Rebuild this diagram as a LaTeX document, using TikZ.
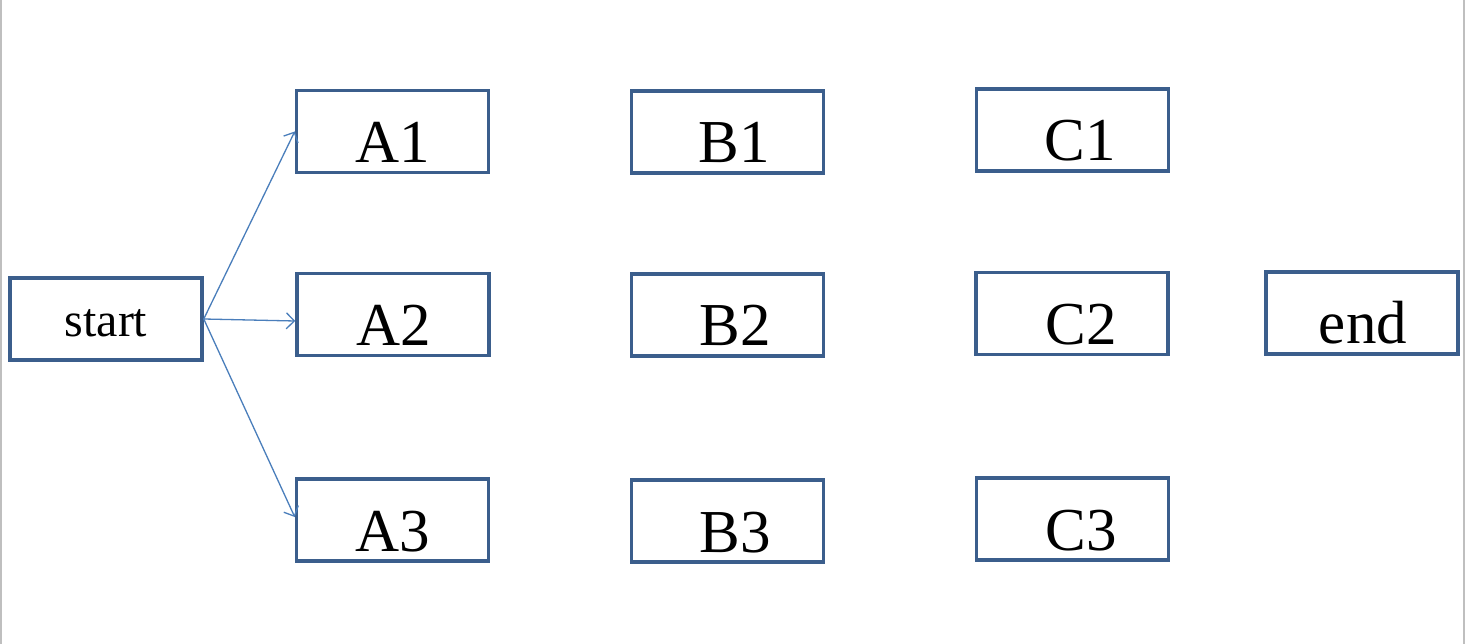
\documentclass[tikz,border=0pt]{standalone}
\usepackage{fontspec}
\setmainfont{Liberation Serif}
\usetikzlibrary{arrows.meta}
\definecolor{boxblue}{HTML}{3B5E8C}
\definecolor{arrowblue}{HTML}{4A7EBB}
\begin{document}
\begin{tikzpicture}[x=1pt,y=-1pt,
  box/.style={draw=boxblue,line width=3.5pt,rectangle,minimum width=192pt,minimum height=82pt,
    inner sep=0pt,text height=62pt,text depth=0pt,font=\fontsize{61}{70}\selectfont},
  smallbox/.style={box,text height=36pt,font=\fontsize{48}{56}\selectfont},
  conn/.style={draw=arrowblue,line width=1.3pt,-{Straight Barb[length=8pt,width=16pt,line width=1.3pt]}},
  edge/.style={draw=black!25,line width=1.5pt}]
\useasboundingbox (0,0) rectangle (1465,644);
\fill[white] (0,0) rectangle (1465,644);
\coordinate (ltop) at (0.8,0);
\coordinate (lbot) at (0.8,644);
\coordinate (rtop) at (1463.8,0);
\coordinate (rbot) at (1463.8,644);
\draw[edge] (ltop) -- (lbot);
\draw[edge] (rtop) -- (rbot);

\node[smallbox] (start) at (106,319) {start\hspace{20pt}};
\node[box] (A1) at (392.5,131.5) {A1};
\node[box] (A2) at (393,314.5) {\hspace{2pt}A2};
\node[box] (A3) at (392.5,520) {A3};
\node[box] (B1) at (727.5,132) {\hspace{14pt}B1};
\node[box] (B2) at (727.5,315) {\hspace{16pt}B2};
\node[box] (B3) at (727.5,521) {\hspace{16pt}B3};
\node[box] (C1) at (1072.5,130) {\hspace{16pt}C1};
\node[box] (C2) at (1072,313.5) {\hspace{18pt}C2};
\node[box] (C3) at (1072.5,519) {\hspace{18pt}C3};
\node[box] (end) at (1362,313) {\hspace{2pt}end};

\draw[conn] (start.east) -- (A1.west);
\draw[conn] (start.east) -- ([yshift=-6.5pt]A2.west);
\draw[conn] (start.east) -- ([yshift=3pt]A3.west);
\end{tikzpicture}
\end{document}
